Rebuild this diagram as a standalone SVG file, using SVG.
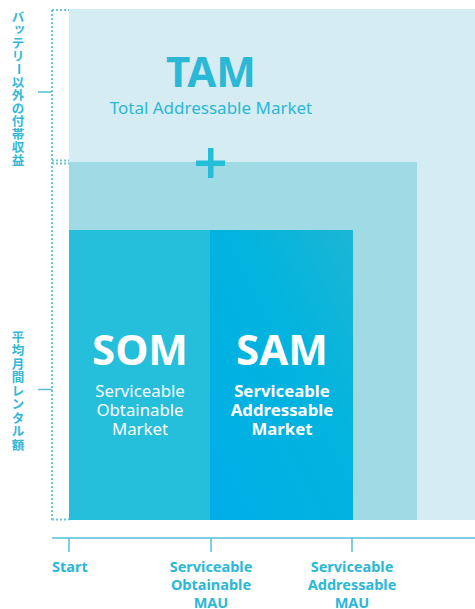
<svg xmlns="http://www.w3.org/2000/svg" width="475" height="609" viewBox="0 0 475 609">
<defs>
<linearGradient id="samg" x1="0" y1="1" x2="1" y2="0">
<stop offset="0" stop-color="#00aee8"/>
<stop offset="0.6" stop-color="#02b4de"/>
<stop offset="1" stop-color="#1cb6d4"/>
</linearGradient>
<style>
.lbl{font-family:"Noto Sans","Liberation Sans",sans-serif;fill:#2bb8d6;font-weight:bold;font-size:14.5px;text-anchor:middle}
.jp{font-family:"Noto Sans CJK JP","Noto Sans",sans-serif;fill:#33b8d8;font-weight:bold;font-size:12.5px;text-anchor:middle}
.big{font-family:"Noto Sans","Liberation Sans",sans-serif;font-weight:bold;font-size:42px;text-anchor:middle}
.sub{font-family:"Noto Sans","Liberation Sans",sans-serif;font-size:16.8px;text-anchor:middle;fill:#fff}
.dot{stroke:#6cc6dc;stroke-width:2;stroke-dasharray:2 2;fill:none}
.ax{stroke:#55c0d8;stroke-width:1.5;fill:none}
</style>
</defs>
<rect width="475" height="609" fill="#fff"/>
<g id="tam">
<rect x="69" y="9" width="406" height="511" fill="#d4ecf2"/>
<text class="big" x="211" y="87" fill="#2bb8d6">TAM</text>
<text x="211" y="114" font-family="Noto Sans, Liberation Sans, sans-serif" font-size="17" text-anchor="middle" fill="#2bb8d6">Total Addressable Market</text>
</g>
<g id="sam-area">
<rect x="69" y="162" width="348" height="358" fill="#9fdae5"/>
</g>
<g id="plus">
<rect x="196" y="160.5" width="29" height="5.5" fill="#25bed9"/>
<rect x="208" y="148" width="5.5" height="30" fill="#25bed9"/>
</g>
<g id="som">
<rect x="69" y="230" width="141" height="290" fill="#25bedb"/>
<text class="big" x="140" y="365" fill="#fff">SOM</text>
<text class="sub" x="140" y="397">Serviceable</text>
<text class="sub" x="140" y="416">Obtainable</text>
<text class="sub" x="140" y="435">Market</text>
</g>
<g id="sam">
<rect x="210" y="230" width="143" height="290" fill="url(#samg)"/>
<text class="big" x="282" y="365" fill="#fff">SAM</text>
<text class="sub" x="282" y="397" font-weight="bold">Serviceable</text>
<text class="sub" x="282" y="416" font-weight="bold">Addressable</text>
<text class="sub" x="282" y="435" font-weight="bold">Market</text>
</g>
<g id="connectors">
<path class="dot" d="M52 10V520M52 10H69M52 160.5H69M52 163.5H69M52 519.5H69"/>
<path class="ax" d="M38 92H52M38 389.5H52"/>
<path class="ax" d="M52 538H475M69 538V552M211 538V552M352 538V552"/>
</g>
<g id="y-labels">
<text class="jp" x="18" y="21.5">バ</text>
<text class="jp" x="19.5" y="33">ッ</text>
<text class="jp" x="18" y="47.5">テ</text>
<text class="jp" x="18" y="60.5">リ</text>
<text class="jp" x="18" y="73.5" transform="rotate(90 18 69)">ー</text>
<text class="jp" x="18" y="86.5">以</text>
<text class="jp" x="18" y="99.5">外</text>
<text class="jp" x="18" y="112.5">の</text>
<text class="jp" x="18" y="125.5">付</text>
<text class="jp" x="18" y="138.5">帯</text>
<text class="jp" x="18" y="151.5">収</text>
<text class="jp" x="18" y="164.5">益</text>
<text class="jp" x="18" y="341.5">平</text>
<text class="jp" x="18" y="355">均</text>
<text class="jp" x="18" y="368.5">月</text>
<text class="jp" x="18" y="382">間</text>
<text class="jp" x="18" y="395.5">レ</text>
<text class="jp" x="18" y="409">ン</text>
<text class="jp" x="18" y="422.5">タ</text>
<text class="jp" x="18" y="436">ル</text>
<text class="jp" x="18" y="450">額</text>
</g>
<g id="x-labels">
<text class="lbl" x="52" y="572" style="text-anchor:start">Start</text>
<text class="lbl" x="211" y="572">Serviceable</text>
<text class="lbl" x="211" y="590">Obtainable</text>
<text class="lbl" x="211" y="608">MAU</text>
<text class="lbl" x="352" y="572">Serviceable</text>
<text class="lbl" x="352" y="590">Addressable</text>
<text class="lbl" x="352" y="608">MAU</text>
</g>
</svg>
